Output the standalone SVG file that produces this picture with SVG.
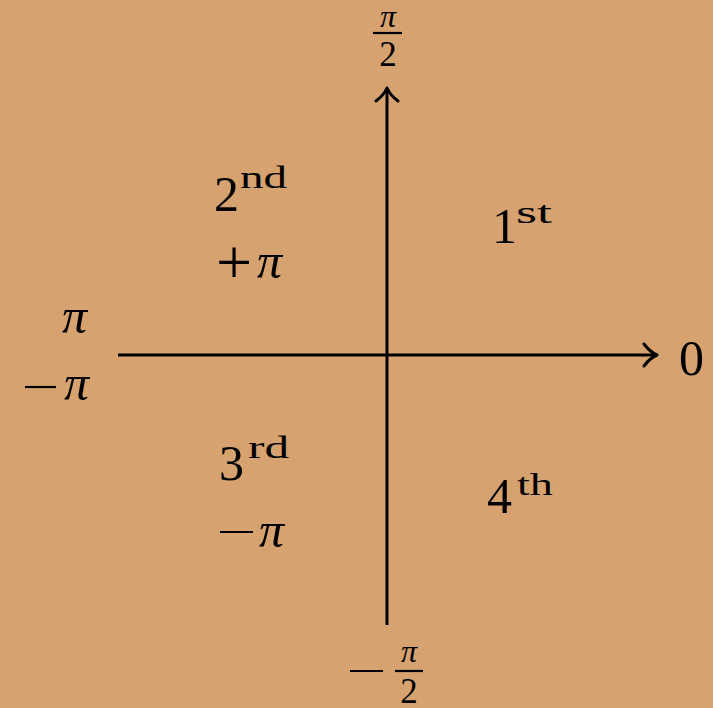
<svg xmlns="http://www.w3.org/2000/svg" width="713" height="708" viewBox="0 0 713 708">
<style>
.t{font-family:"Liberation Serif","DejaVu Serif",serif;fill:#000}
.big{font-size:50px}
.sup{font-size:31px}
.sm{font-size:35px}
.it{font-style:italic}
.ax{stroke:#000;stroke-width:3;fill:none}
.hd{stroke:#000;stroke-width:3;fill:none;stroke-linecap:round;stroke-linejoin:round}
.bar{stroke:#000;stroke-width:2.2}
</style>
<rect width="713" height="708" fill="#D6A26F"/>
<g id="connectors">
<line class="ax" x1="118" y1="355" x2="655" y2="355"/>
<path class="hd" d="M644,344 Q650,352 657,355 Q650,358 644,366"/>
<line class="ax" x1="387" y1="625" x2="387" y2="90"/>
<path class="hd" d="M376,101 Q384,95 387,88 Q390,95 398,101"/>
</g>
<g id="top-label">
<text class="t it" style="font-size:32px" x="388" y="27" text-anchor="middle">π</text>
<line class="bar" x1="373" y1="33" x2="402" y2="33"/>
<text class="t sm" x="388" y="66" text-anchor="middle">2</text>
</g>
<g id="bottom-label">
<line class="bar" x1="350" y1="671" x2="383" y2="671"/>
<text class="t it" style="font-size:32px" x="409" y="662" text-anchor="middle">π</text>
<line class="bar" x1="395" y1="671" x2="423" y2="671"/>
<text class="t sm" x="409" y="703" text-anchor="middle">2</text>
</g>
<g id="right-label">
<text class="t big" x="679" y="375">0</text>
</g>
<g id="left-label">
<text class="t big it" x="62" y="333">π</text>
<line class="bar" x1="25" y1="387" x2="56" y2="387"/>
<text class="t big it" x="64" y="400">π</text>
</g>
<g id="q1">
<text class="t big" x="492" y="243">1</text>
<text class="t sup" x="516" y="223" textLength="36" lengthAdjust="spacingAndGlyphs">st</text>
</g>
<g id="q2">
<text class="t big" x="214" y="211">2</text>
<text class="t sup" x="240" y="188" textLength="47" lengthAdjust="spacingAndGlyphs">nd</text>
<text class="t" style="font-size:64px" x="216" y="284">+</text>
<text class="t big it" x="257" y="278">π</text>
</g>
<g id="q3">
<text class="t big" x="219" y="480">3</text>
<text class="t sup" x="248" y="458" textLength="41" lengthAdjust="spacingAndGlyphs">rd</text>
<line class="bar" x1="220" y1="532" x2="253" y2="532"/>
<text class="t big it" x="259" y="547">π</text>
</g>
<g id="q4">
<text class="t big" x="487" y="513">4</text>
<text class="t sup" x="517" y="495" textLength="36" lengthAdjust="spacingAndGlyphs">th</text>
</g>
</svg>
